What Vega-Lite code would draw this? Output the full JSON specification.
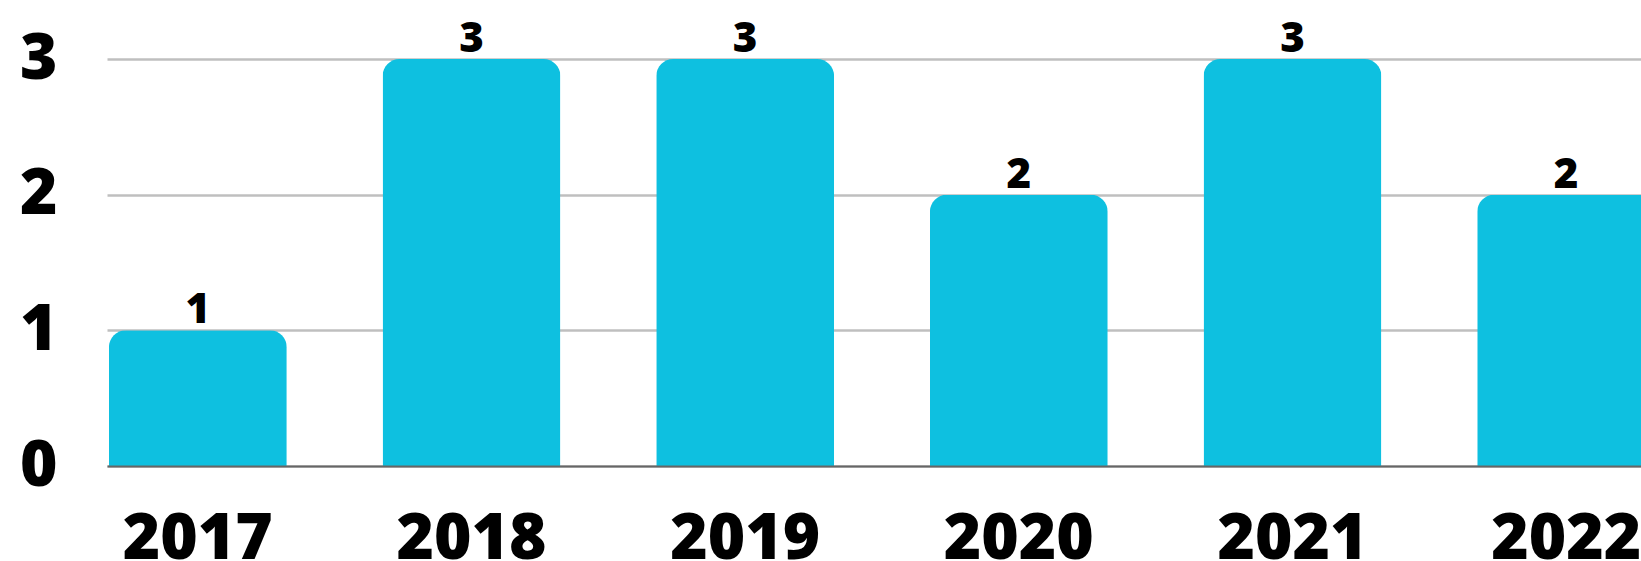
{
  "$schema": "https://vega.github.io/schema/vega-lite/v6.json",
  "width": 1534,
  "height": 407,
  "autosize": {"type": "none"},
  "padding": {"left": 107, "top": 59, "right": 0, "bottom": 95},
  "background": "white",
  "config": {
    "view": {"stroke": null},
    "font": "Open Sans"
  },
  "data": {
    "values": [
      {"year": "2017", "count": 1},
      {"year": "2018", "count": 3},
      {"year": "2019", "count": 3},
      {"year": "2020", "count": 2},
      {"year": "2021", "count": 3},
      {"year": "2022", "count": 2}
    ]
  },
  "encoding": {
    "x": {
      "field": "year",
      "type": "ordinal",
      "sort": null,
      "scale": {"range": [0, 1550], "paddingInner": 0.35, "paddingOuter": 0.007},
      "axis": {
        "title": null,
        "labelAngle": 0,
        "labelFont": "Open Sans",
        "labelFontSize": 64,
        "labelFontWeight": 800,
        "labelColor": "#000000",
        "labelPadding": 41,
        "ticks": false,
        "tickSize": 0,
        "domain": true,
        "domainColor": "#666666",
        "domainWidth": 2,
        "grid": false,
        "zindex": 1
      }
    },
    "y": {
      "field": "count",
      "type": "quantitative",
      "scale": {"domain": [0, 3], "nice": false},
      "axis": {
        "title": null,
        "values": [0, 1, 2, 3],
        "labelFont": "Open Sans",
        "labelFontSize": 64,
        "labelFontWeight": 800,
        "labelColor": "#000000",
        "labelPadding": 50,
        "ticks": false,
        "tickSize": 0,
        "domain": false,
        "grid": true,
        "gridColor": "#bfbfbf",
        "gridWidth": 2.5
      }
    }
  },
  "layer": [
    {
      "mark": {
        "type": "bar",
        "color": "#0ec0e0",
        "cornerRadiusTopLeft": 17,
        "cornerRadiusTopRight": 17
      }
    },
    {
      "mark": {
        "type": "text",
        "font": "Open Sans",
        "fontSize": 42,
        "fontWeight": 800,
        "color": "#000000",
        "baseline": "alphabetic",
        "dy": -7
      },
      "encoding": {
        "text": {"field": "count", "type": "quantitative"}
      }
    }
  ]
}
